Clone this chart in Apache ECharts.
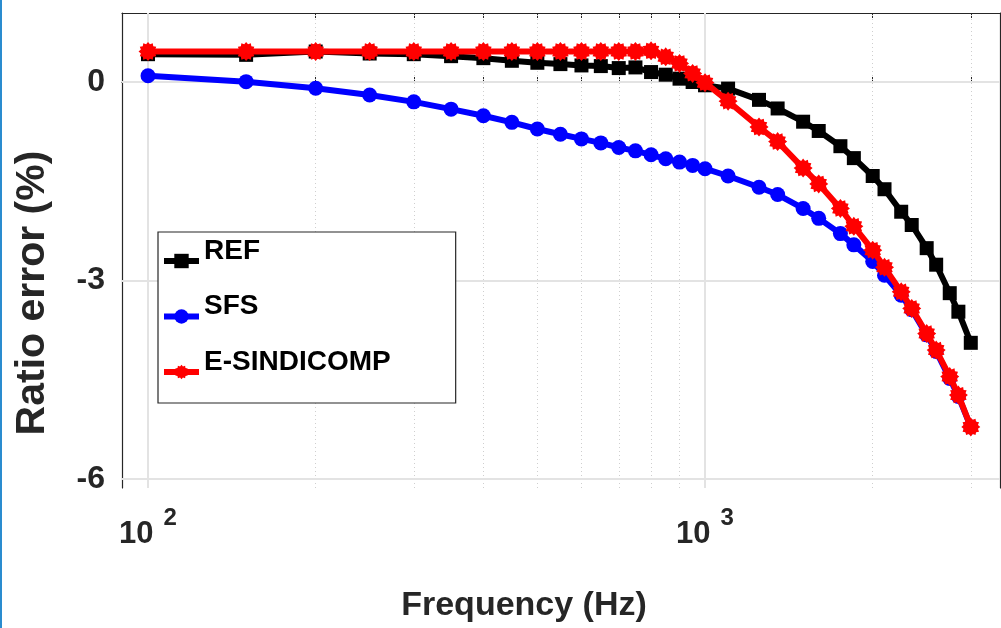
<!DOCTYPE html>
<html><head><meta charset="utf-8">
<script src="https://cdn.jsdelivr.net/npm/echarts@6/dist/echarts.min.js"></script>
<style>html,body{margin:0;padding:0;background:#fff}#c{width:1001px;height:628px}</style>
</head><body><div id="c"></div>
<script>
// ---- data ----
const freqs = [100,150,200,250,300,350,400,450,500,550,600,650,700,750,800,850,900,950,1000,
               1100,1250,1350,1500,1600,1750,1850,2000,2100,2250,2350,2500,2600,2750,2850,3000];
const refVals = [0.42,0.41,0.46,0.43,0.42,0.39,0.36,0.32,0.29,0.27,0.25,0.24,0.21,0.22,0.15,0.11,0.05,0.00,-0.05,
                 -0.10,-0.27,-0.40,-0.60,-0.74,-0.97,-1.15,-1.42,-1.62,-1.96,-2.16,-2.51,-2.76,-3.19,-3.47,-3.94];
const sfsVals = [0.095,0.005,-0.095,-0.196,-0.30,-0.41,-0.51,-0.61,-0.71,-0.79,-0.86,-0.92,-0.99,-1.04,-1.10,-1.16,-1.21,-1.26,-1.31,
                 -1.42,-1.59,-1.70,-1.91,-2.06,-2.29,-2.46,-2.71,-2.92,-3.22,-3.44,-3.82,-4.07,-4.48,-4.75,-5.21];
const esindVals = [0.46,0.46,0.46,0.46,0.46,0.46,0.46,0.46,0.46,0.46,0.46,0.46,0.46,0.46,0.47,0.38,0.28,0.13,-0.01,
                   -0.29,-0.68,-0.90,-1.30,-1.54,-1.91,-2.18,-2.54,-2.80,-3.17,-3.42,-3.80,-4.05,-4.45,-4.73,-5.21];
const seriesNames = ['REF','SFS','E-SINDICOMP'];
const xMajorTicks = [100,1000];
const xMinorTicks = [100,200,300,400,500,600,700,800,900,1000,2000,3000];
const xDottedGrid = [200,300,400,500,600,700,800,900,2000,3000];
const yTicks = [-6,-3,0];
const xTitle = 'Frequency (Hz)';
const yTitle = 'Ratio error (%)';

// ---- style helpers ----
const FONT = '"Liberation Sans", Arial, sans-serif';
function gearPath(n, rO, rI){
  let d='';
  for(let i=0;i<2*n;i++){
    const r = i%2 ? rI : rO;
    const a = Math.PI*i/n;
    d += (i?'L':'M') + (r*Math.cos(a)).toFixed(3)+' '+(r*Math.sin(a)).toFixed(3)+' ';
  }
  return 'path://'+d+'Z';
}
const pair = vals => freqs.map((f,i)=>[f, vals[i]]);

const gridLines = [];
xMajorTicks.forEach(v=>gridLines.push({xAxis:v, lineStyle:{color:'#e3e3e3', width:2, type:'solid'}}));
xDottedGrid.forEach(v=>gridLines.push({xAxis:v, lineStyle:{color:'#cfcfcf', width:1, type:[1,3]}}));
yTicks.forEach(v=>gridLines.push({yAxis:v, lineStyle:{color:'#e3e3e3', width:2, type:'solid'}}));

const X_MIN = 89.8, X_MAX = 3385, Y_MIN = -6.133, Y_MAX = 1.042;
const axisCommon = {type:'log', logBase:10, min:X_MIN, max:X_MAX, splitLine:{show:false}};
const gear = gearPath(12, 10, 7.8);

const chart = echarts.init(document.getElementById('c'), null, {renderer:'canvas'});
chart.setOption({
  animation:false,
  backgroundColor:'#fff',
  textStyle:{fontFamily:FONT},
  grid:{left:122, right:1, top:13, bottom:140, containLabel:false, outerBoundsMode:'none'},
  xAxis:[
    Object.assign({}, axisCommon, {
      position:'bottom',
      axisLine:{show:true, lineStyle:{color:'#262626', width:1.2}},
      axisTick:{show:true, inside:true, length:5, customValues:xMinorTicks, lineStyle:{color:'#262626'}},
      axisLabel:{show:true, customValues:xMajorTicks, margin:18,
        formatter: v => '{b|10}{s|' + Math.round(Math.log10(v)) + '}',
        rich:{
          b:{fontSize:31, fontWeight:'bold', color:'#262626', fontFamily:FONT, lineHeight:44, verticalAlign:'bottom'},
          s:{fontSize:24, fontWeight:'bold', color:'#262626', fontFamily:FONT, lineHeight:44, verticalAlign:'top', padding:[0,0,0,10]}
        }}
    }),
    Object.assign({}, axisCommon, {
      position:'bottom',
      axisLine:{show:false},
      axisTick:{show:true, inside:true, length:10, customValues:xMajorTicks, lineStyle:{color:'#262626', width:1.5}},
      axisLabel:{show:false}
    }),
    Object.assign({}, axisCommon, {
      position:'top',
      axisLine:{show:true, lineStyle:{color:'#262626', width:1.2}},
      axisTick:{show:true, inside:true, length:5, customValues:xMinorTicks, lineStyle:{color:'#262626'}},
      axisLabel:{show:false}
    })
  ],
  yAxis:[
    {type:'value', min:Y_MIN, max:Y_MAX, position:'left',
      axisLine:{show:true, lineStyle:{color:'#262626', width:1.2}},
      axisTick:{show:true, inside:true, length:8, customValues:yTicks, lineStyle:{color:'#262626'}},
      axisLabel:{show:true, customValues:yTicks, margin:17, fontSize:32, fontWeight:'bold', color:'#262626',
        fontFamily:FONT, padding:[0,0,16,0]},
      splitLine:{show:false}},
    {type:'value', min:Y_MIN, max:Y_MAX, position:'right',
      axisLine:{show:true, lineStyle:{color:'#262626', width:1.2}},
      axisTick:{show:true, inside:true, length:6, customValues:yTicks, lineStyle:{color:'#262626'}},
      axisLabel:{show:false}, splitLine:{show:false}}
  ],
  legend:{
    show:true, orient:'vertical', left:158, top:232,
    data:seriesNames,
    backgroundColor:'#fff', borderColor:'#262626', borderWidth:1.2, borderRadius:0,
    padding:[5,65,15,3], itemGap:15.5, itemWidth:35, itemHeight:18,
    lineStyle:{width:6},
    formatter: name => '{t|' + name + '}\n{e| }',
    textStyle:{fontSize:28, fontWeight:'bold', color:'#000', fontFamily:FONT,
      rich:{
        t:{fontSize:28, fontWeight:'bold', color:'#000', fontFamily:FONT, lineHeight:30},
        e:{fontSize:2, lineHeight:20}
      }}
  },
  series:[
    {name:seriesNames[0], type:'line', xAxisIndex:0, yAxisIndex:0, z:3,
      data:pair(refVals), symbol:'rect', symbolSize:14,
      lineStyle:{color:'#000', width:6}, itemStyle:{color:'#000'},
      markLine:{silent:true, symbol:'none', z:1, label:{show:false}, animation:false, data:gridLines}},
    {name:seriesNames[1], type:'line', xAxisIndex:0, yAxisIndex:0, z:4,
      data:pair(sfsVals), symbol:'circle', symbolSize:15,
      lineStyle:{color:'#0000ff', width:6}, itemStyle:{color:'#0000ff'}},
    {name:seriesNames[2], type:'line', xAxisIndex:0, yAxisIndex:0, z:5,
      data:pair(esindVals), symbol:gear, symbolSize:19,
      lineStyle:{color:'#ff0000', width:6}, itemStyle:{color:'#ff0000'}}
  ],
  graphic:[
    {type:'rect', left:0, top:0, shape:{width:2, height:628}, style:{fill:'#2a8ccf'}, z:100},
    {type:'text', x:33, y:293, rotation:Math.PI/2,
      style:{text:yTitle, font:'bold 41px '+FONT, fill:'#262626', textAlign:'center', textVerticalAlign:'middle'}},
    {type:'text', x:524, y:606,
      style:{text:xTitle, font:'bold 34px '+FONT, fill:'#262626', textAlign:'center', textVerticalAlign:'middle'}}
  ]
});
</script></body></html>
